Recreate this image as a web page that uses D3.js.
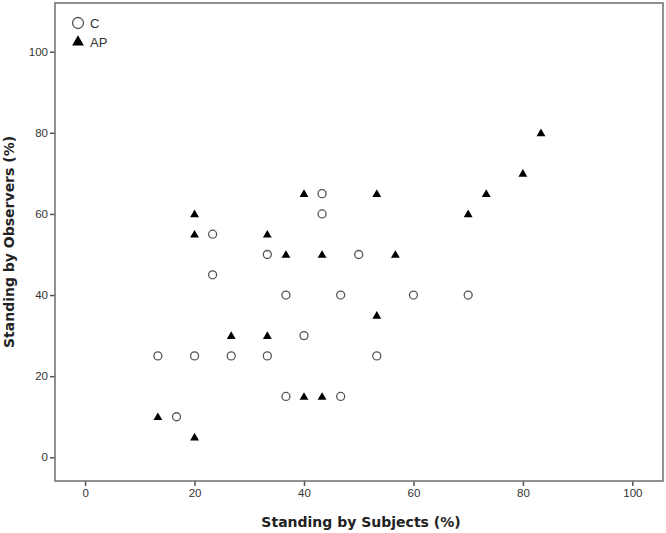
<!DOCTYPE html>
<html>
<head>
<meta charset="utf-8">
<script src="https://cdn.jsdelivr.net/npm/d3@7"></script>
<style>
  body { margin: 0; background: #fff; }
  svg { font-family: "Liberation Sans", Arial, sans-serif; }
  .title { font-family: "DejaVu Sans", Verdana, sans-serif; }
</style>
</head>
<body>
<div id="chart"></div>
<script>
// group C (open circles)
var cX = [13.3, 16.7, 20, 23.3, 23.3, 26.7, 33.3, 33.3, 36.7, 36.7, 40, 43.3, 43.3, 46.7, 46.7, 50, 53.3, 60, 70];
var cY = [25, 10, 25, 55, 45, 25, 50, 25, 40, 15, 30, 65, 60, 40, 15, 50, 25, 40, 40];
// group AP (filled triangles)
var apX = [13.3, 20, 20, 20, 26.7, 33.3, 33.3, 36.7, 40, 40, 43.3, 43.3, 53.3, 53.3, 56.7, 70, 73.3, 80, 83.3];
var apY = [10, 5, 60, 55, 30, 30, 55, 50, 65, 15, 15, 50, 65, 35, 50, 60, 65, 70, 80];
var xTicks = [0, 20, 40, 60, 80, 100];
var yTicks = [0, 20, 40, 60, 80, 100];

var width = 666, height = 533,
	margin = {top: 3, right: 3, bottom: 52, left: 55};

var xScale = d3.scaleLinear().domain([-5.5, 105.6]).range([margin.left, width - margin.right]),
	yScale = d3.scaleLinear().domain([-5.84, 112]).range([height - margin.bottom, margin.top]);

var svg = d3.select("#chart").append("svg")
	.attr("width", width)
	.attr("height", height);

// axes
var xAxis = d3.axisBottom(xScale).tickValues(xTicks).tickSize(5).tickSizeOuter(0).tickPadding(3);
var yAxis = d3.axisLeft(yScale).tickValues(yTicks).tickSize(5).tickSizeOuter(0).tickPadding(2);

var gx = svg.append("g")
	.attr("transform", "translate(0," + (height - margin.bottom) + ")")
	.call(xAxis);
var gy = svg.append("g")
	.attr("transform", "translate(" + margin.left + ",0)")
	.call(yAxis);

[gx, gy].forEach(function(g) {
	g.select(".domain").remove();
	g.selectAll(".tick line").attr("stroke", "#555").attr("stroke-width", 1.5);
	g.selectAll(".tick text").attr("fill", "#333").style("font-size", "11.5px");
});

// frame
svg.append("rect")
	.attr("x", margin.left)
	.attr("y", margin.top)
	.attr("width", width - margin.left - margin.right)
	.attr("height", height - margin.top - margin.bottom)
	.attr("fill", "none")
	.attr("stroke", "#6e6e6e")
	.attr("stroke-width", 1.5);

// points
var cData = cX.map(function(x, i) { return [x, cY[i]]; });
var apData = apX.map(function(x, i) { return [x, apY[i]]; });
var tri = d3.symbol().type(d3.symbolTriangle).size(34);

svg.append("g").selectAll("circle")
	.data(cData)
	.enter().append("circle")
	.attr("cx", function(d) { return xScale(d[0]); })
	.attr("cy", function(d) { return yScale(d[1]); })
	.attr("r", 4)
	.attr("fill", "none")
	.attr("stroke", "#555")
	.attr("stroke-width", 1.3);

svg.append("g").selectAll("path")
	.data(apData)
	.enter().append("path")
	.attr("d", tri)
	.attr("transform", function(d) { return "translate(" + xScale(d[0]) + "," + (yScale(d[1]) + 0.8) + ")"; })
	.attr("fill", "#000");

// legend
var legend = svg.append("g").attr("transform", "translate(78,0)");
legend.append("circle")
	.attr("cx", 0).attr("cy", 23).attr("r", 5.5)
	.attr("fill", "none").attr("stroke", "#555").attr("stroke-width", 1.3);
legend.append("text").attr("x", 12).attr("y", 28).text("C")
	.style("font-size", "13px").attr("fill", "#333");
legend.append("path")
	.attr("d", d3.symbol().type(d3.symbolTriangle).size(60))
	.attr("transform", "translate(0,42)")
	.attr("fill", "#000");
legend.append("text").attr("x", 12).attr("y", 47).text("AP")
	.style("font-size", "13px").attr("fill", "#333");

// axis titles
svg.append("text")
	.attr("class", "title")
	.attr("x", (margin.left + width - margin.right) / 2 + 2)
	.attr("y", 527)
	.attr("text-anchor", "middle")
	.style("font-size", "14px")
	.style("font-weight", "bold")
	.attr("fill", "#222")
	.text("Standing by Subjects (%)");

svg.append("text")
	.attr("class", "title")
	.attr("transform", "translate(14," + ((margin.top + height - margin.bottom) / 2) + ") rotate(-90)")
	.attr("text-anchor", "middle")
	.style("font-size", "14px")
	.style("font-weight", "bold")
	.attr("fill", "#222")
	.text("Standing by Observers (%)");
</script>
</body>
</html>
